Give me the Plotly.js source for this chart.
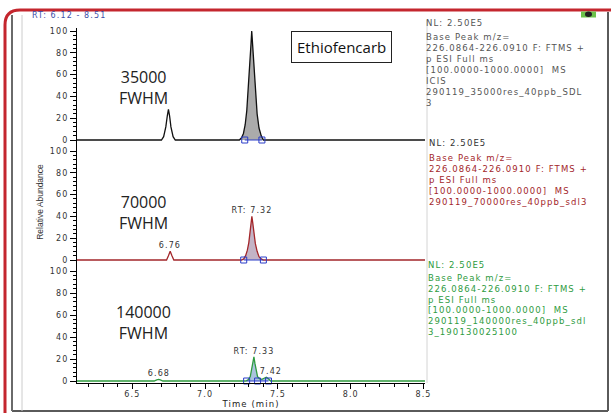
<!DOCTYPE html>
<html>
<head>
<meta charset="utf-8">
<script src="https://cdn.plot.ly/plotly-3.0.1.min.js"></script>
<style>
html,body{margin:0;padding:0;background:#fff;}
#chart{width:611px;height:413px;}
#chart .main-svg text{letter-spacing:1.1px;}
#chart .annotation[data-index="0"] text,
#chart .annotation[data-index="1"] text,
#chart .annotation[data-index="2"] text,
#chart .annotation[data-index="3"] text,
#chart .y2title{letter-spacing:0 !important;}
</style>
</head>
<body>
<div id="chart"></div>
<script>
// ---------------- data ----------------
const timeRange = [6.12, 8.51];
const xTicks = [6.5, 7.0, 7.5, 8.0, 8.5];
const xTickText = ['6.5', '7.0', '7.5', '8.0', '8.5'];
const yTicks = [0, 20, 40, 60, 80, 100];
const yTickText = ['0', '20', '40', '60', '80', '100'];

// 35000 FWHM chromatogram (time, relative abundance)
const t35 = [6.12, 6.70, 6.715, 6.73, 6.74, 6.748, 6.756, 6.765, 6.78, 6.795,
             7.235, 7.25, 7.263, 7.275, 7.286, 7.296, 7.308, 7.315, 7.32, 7.326, 7.335, 7.345, 7.357, 7.37, 7.385, 7.40, 8.51];
const i35 = [0, 0, 3, 12, 22, 28, 22, 12, 3, 0,
             0, 2, 6, 14, 27, 45, 70, 88, 100, 86, 64, 42, 24, 11, 4, 0, 0];

// 70000 FWHM chromatogram
const t70 = [6.12, 6.735, 6.748, 6.76, 6.772, 6.785,
             7.25, 7.265, 7.278, 7.29, 7.30, 7.31, 7.316, 7.321, 7.327, 7.335, 7.345, 7.357, 7.37, 7.385, 7.40, 8.51];
const i70 = [0, 0, 4, 8, 4, 0,
             0, 1, 4, 9, 16, 26, 34, 40, 34, 25, 15, 8, 3, 1, 0, 0];

// 140000 FWHM chromatogram
const t140 = [6.12, 6.65, 6.668, 6.68, 6.692, 6.71,
              7.28, 7.295, 7.31, 7.32, 7.328, 7.335, 7.342, 7.35, 7.36, 7.375, 7.39, 7.405, 7.42, 7.435, 7.45, 8.51];
const i140 = [0, 0, 1, 1.5, 1, 0,
              0, 1, 4, 10, 17, 22, 16, 9, 4, 2, 1.5, 2.5, 3.5, 2, 0, 0];

// filled (identified) peak ranges and integration boundaries
const peak35 = [7.235, 7.40];
const peak70 = [7.25, 7.40];
const peak140 = [7.28, 7.45];
const bounds35 = [7.272, 7.39];
const bounds70 = [7.265, 7.40];
const bounds140 = [7.285, 7.36, 7.435];

// peak labels
const lab70T = [6.76, 7.321];
const lab70Text = ['6.76', 'RT: 7.32'];
const lab140T = [6.68, 7.335, 7.42];
const lab140Text = ['6.68', 'RT: 7.33', '7.42'];

const resolutions = ['35000', '70000', '140000'];
const compound = 'Ethiofencarb';
const nlText = 'NL: 2.50E5';
const info35 = ['Base Peak m/z=', '226.0864-226.0910 F: FTMS +', 'p ESI Full ms', '[100.0000-1000.0000]  MS', 'ICIS', '290119_35000res_40ppb_SDL', '3'];
const info70 = ['Base Peak m/z=', '226.0864-226.0910 F: FTMS +', 'p ESI Full ms', '[100.0000-1000.0000]  MS', '290119_70000res_40ppb_sdl3'];
const info140 = ['Base Peak m/z=', '226.0864-226.0910 F: FTMS +', 'p ESI Full ms', '[100.0000-1000.0000]  MS', '290119_140000res_40ppb_sdl', '3_190130025100'];

// ---------------- layout helpers ----------------
const L = 77, R = 425, T = 28, B = 383;
const px = x => (x - L) / (R - L);
const py = y => (B - y) / (B - T);

// pixel placement of each panel: zero line, 100 line, domain bottom, domain top
const panelPx = [
  {zero: 140, hundred: 31, bot: 142, top: 28},
  {zero: 260, hundred: 151, bot: 262, top: 142},
  {zero: 381, hundred: 271, bot: 383, top: 262}
];
function panelAxis(p, extra) {
  const k = (p.zero - p.hundred) / 100;
  const minorVals = [];
  for (let v = 0; v <= 100; v += 4) minorVals.push(v);
  return Object.assign({
    domain: [py(p.bot), py(p.top)],
    range: [-(p.bot - p.zero) / k, (p.zero - p.top) / k],
    anchor: 'x',
    showline: true, linecolor: '#000', linewidth: 1,
    ticks: 'outside', ticklen: 6, tickwidth: 1, tickcolor: '#000',
    tickmode: 'array', tickvals: yTicks, ticktext: yTickText,
    tickfont: {family: 'DejaVu Sans', size: 8, color: '#333'},
    showgrid: false, zeroline: false, fixedrange: true,
    minor: {tickmode: 'array', tickvals: minorVals, ticks: 'outside', ticklen: 3, tickcolor: '#000', showgrid: false}
  }, extra || {});
}

const colors = {
  line: ['#111111', '#a3262a', '#2e9b3e'],
  fill: ['#ababab', '#c3b3c6', '#a9c4de'],
  mark: '#2a3cc8'
};

const series = [
  {t: t35, i: i35, peak: peak35, bounds: bounds35, ax: 'y'},
  {t: t70, i: i70, peak: peak70, bounds: bounds70, ax: 'y2'},
  {t: t140, i: i140, peak: peak140, bounds: bounds140, ax: 'y3'}
];

const traces = [];
series.forEach((s, k) => {
  const ft = [], fi = [];
  s.t.forEach((t, j) => { if (t >= s.peak[0] && t <= s.peak[1]) { ft.push(t); fi.push(s.i[j]); } });
  traces.push({x: ft, y: fi, yaxis: s.ax, type: 'scatter', mode: 'lines',
               fill: 'tozeroy', fillcolor: colors.fill[k], line: {width: 0, color: colors.fill[k]}, hoverinfo: 'skip'});
  traces.push({x: s.t, y: s.i, yaxis: s.ax, type: 'scatter', mode: 'lines',
               line: {width: 1.3, color: colors.line[k]}, hoverinfo: 'skip'});
  traces.push({x: s.bounds, y: s.bounds.map(() => 0), yaxis: s.ax, type: 'scatter', mode: 'lines+markers',
               line: {width: 1, color: colors.mark},
               marker: {symbol: 'square-open', size: 6, color: colors.mark, line: {width: 1, color: colors.mark}},
               cliponaxis: false, hoverinfo: 'skip'});
});

// ---------------- annotations ----------------
const ann = [];
const bigFont = {family: 'Open Sans', size: 16, color: '#222'};
const resY = [87.5, 212, 322];
resolutions.forEach((r, k) => {
  ann.push({xref: 'paper', yref: 'paper', x: px(143), y: py(resY[k]), text: r + '<br>FWHM', showarrow: false,
            xanchor: 'center', yanchor: 'middle', align: 'center', font: bigFont});
});
ann.push({xref: 'paper', yref: 'paper', x: px(341), y: py(47), text: compound, showarrow: false,
          xanchor: 'center', yanchor: 'middle', bordercolor: '#222', borderwidth: 1, borderpad: 5, bgcolor: '#fff',
          font: {family: 'Open Sans', size: 15, color: '#111'}});

// RT range header
ann.push({xref: 'paper', yref: 'paper', x: px(30), y: py(15), xanchor: 'left', yanchor: 'middle', align: 'left', showarrow: false,
          text: 'RT: ' + timeRange[0].toFixed(2) + ' - ' + timeRange[1].toFixed(2),
          font: {family: 'DejaVu Sans', size: 8, color: '#3d4ea8'}});

// peak labels
const labFont = {family: 'DejaVu Sans', size: 8, color: '#333'};
lab70T.forEach((t, j) => {
  const y = i70[t70.indexOf(t)];
  ann.push({xref: 'x', yref: 'y2', x: t, y: y, text: lab70Text[j], showarrow: false,
            xanchor: 'center', yanchor: 'bottom', yshift: -1, font: labFont});
});
lab140T.forEach((t, j) => {
  const y = i140[t140.indexOf(t)];
  ann.push({xref: 'x', yref: 'y3', x: t, y: y, text: lab140Text[j], showarrow: false,
            xanchor: 'center', yanchor: 'bottom', xshift: j === 2 ? 5 : 0, yshift: -1, font: labFont});
});

// info blocks on the right
const infoFont = c => ({family: 'DejaVu Sans', size: 8.5, color: c});
function infoBlock(x, nlY, nlColor, lines, startY, step, color) {
  ann.push({xref: 'paper', yref: 'paper', x: px(x), y: py(nlY), text: nlText, showarrow: false,
            xanchor: 'left', yanchor: 'middle', align: 'left', font: infoFont(nlColor)});
  lines.forEach((ln, j) => {
    ann.push({xref: 'paper', yref: 'paper', x: px(x), y: py(startY + j * step), text: ln, showarrow: false,
              xanchor: 'left', yanchor: 'middle', align: 'left', font: infoFont(color)});
  });
}
infoBlock(424, 23.3, '#555', info35, 36.7, 11, '#555');
infoBlock(427, 143.3, '#333', info70, 158.3, 11, '#a3262a');
infoBlock(426, 265, '#2e9b3e', info140, 278.3, 10.7, '#2e9b3e');

// ---------------- frame shapes ----------------
const shapes = [
  {type: 'path', xref: 'paper', yref: 'paper',
   path: `M ${px(5)} ${py(413)} L ${px(5)} ${py(25)} Q ${px(5)} ${py(10)} ${px(20)} ${py(10)} L ${px(611)} ${py(10)}`,
   line: {color: '#c4262e', width: 3}},
  {type: 'line', xref: 'paper', yref: 'paper', x0: px(608), x1: px(608), y0: py(12), y1: py(411), line: {color: '#5a5a5a', width: 2}},
  {type: 'line', xref: 'paper', yref: 'paper', x0: px(12), x1: px(608), y0: py(411), y1: py(411), line: {color: '#5a5a5a', width: 2}},
  {type: 'line', xref: 'paper', yref: 'paper', x0: px(12), x1: px(12), y0: py(15), y1: py(411), line: {color: '#6a6a6a', width: 2}},
  {type: 'line', xref: 'paper', yref: 'paper', x0: px(22), x1: px(22), y0: py(15), y1: py(411), line: {color: '#cccccc', width: 1}},
  {type: 'line', xref: 'paper', yref: 'paper', x0: px(427), x1: px(427), y0: py(20), y1: py(383), line: {color: '#d4d4d4', width: 1}},
  {type: 'rect', xref: 'paper', yref: 'paper', x0: px(581), x1: px(596), y0: py(11.5), y1: py(17.5), fillcolor: '#6cc24a', line: {width: 0}},
  {type: 'circle', xref: 'paper', yref: 'paper', x0: px(585), x1: px(592), y0: py(11.5), y1: py(17), fillcolor: '#222', line: {width: 0}}
];

const layout = {
  width: 611, height: 413,
  margin: {l: L, r: 611 - R, t: T, b: 413 - B, pad: 0},
  paper_bgcolor: '#fff', plot_bgcolor: '#fff',
  showlegend: false, hovermode: false,
  xaxis: {
    domain: [0, 1], range: timeRange, anchor: 'y3',
    showline: true, linecolor: '#000', linewidth: 1,
    ticks: 'outside', ticklen: 5, tickwidth: 1, tickcolor: '#000',
    tickmode: 'array', tickvals: xTicks, ticktext: xTickText, ticklabelstandoff: -2,
    tickfont: {family: 'DejaVu Sans', size: 8, color: '#333'},
    minor: {dtick: 0.1, tick0: 6.5, ticks: 'outside', ticklen: 3, tickcolor: '#000', showgrid: false},
    showgrid: false, zeroline: false, fixedrange: true,
    title: {text: 'Time (min)', font: {family: 'DejaVu Sans', size: 8.5, color: '#222'}, standoff: 3}
  },
  yaxis: panelAxis(panelPx[0]),
  yaxis2: panelAxis(panelPx[1], {title: {text: 'Relative Abundance', font: {family: 'Liberation Sans', size: 8.5, color: '#333'}, standoff: 8}}),
  yaxis3: panelAxis(panelPx[2]),
  annotations: ann,
  shapes: shapes
};

Plotly.newPlot('chart', traces, layout, {displayModeBar: false, staticPlot: true});
</script>
</body>
</html>
